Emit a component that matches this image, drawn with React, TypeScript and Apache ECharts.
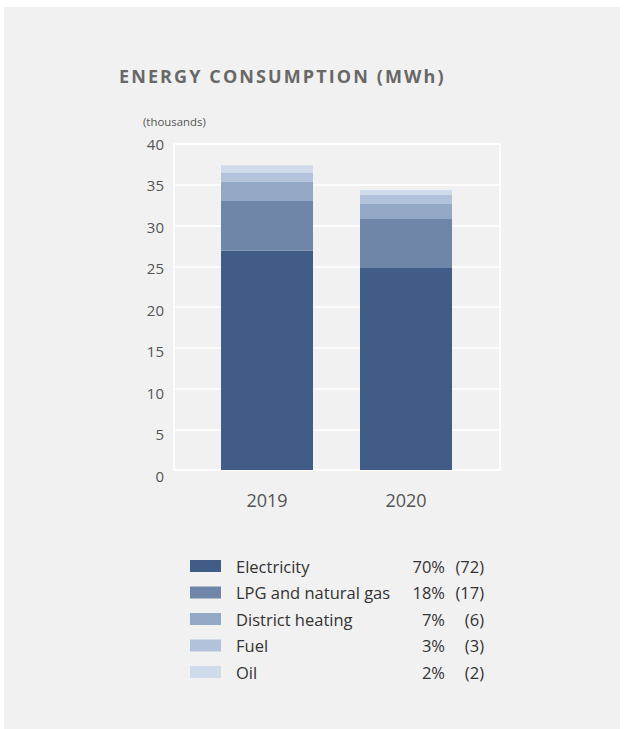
import React, { useEffect, useRef } from "react";
import * as echarts from "echarts";

const years = ["2019", "2020"];
const seriesNames = ["Electricity", "LPG and natural gas", "District heating", "Fuel", "Oil"];
const electricity = [26.9, 24.8];
const lpgGas = [6.1, 6.0];
const districtHeating = [2.4, 1.85];
const fuel = [1.1, 1.1];
const oil = [0.9, 0.6];
const sharePct = ["70%", "18%", "7%", "3%", "2%"];
const sharePrev = ["(72)", "(17)", "(6)", "(3)", "(2)"];
const yTicks = [0, 5, 10, 15, 20, 25, 30, 35, 40];

const colors = ["#405c87", "#6f86a9", "#93a8c5", "#b1c2da", "#cfdaea"];
const FONT = "'Open Sans', 'Noto Sans', sans-serif";

export default function App() {
  const ref = useRef<HTMLDivElement>(null);
  useEffect(() => {
    document.body.style.margin = "0";
    const chart = echarts.init(ref.current!, null, { renderer: "svg" });
    const values = [electricity, lpgGas, districtHeating, fuel, oil];
    const gridTop = 144;
    const gridH = 326;
    chart.setOption({
      animation: false,
      backgroundColor: "#ffffff",
      textStyle: { fontFamily: FONT },
      title: {
        text: "ENERGY CONSUMPTION (MWh)",
        left: 114,
        top: 62,
        textStyle: { fontSize: 18, fontWeight: "bold", color: "#686868", fontFamily: FONT },
      },
      graphic: [
        {
          type: "rect",
          z: -10,
          shape: { x: 4, y: 7, width: 616, height: 730 },
          style: { fill: "#f1f1f1" },
          silent: true,
        },
        {
          type: "text",
          x: 143,
          y: 121,
          style: {
            text: "(thousands)",
            fill: "#555555",
            font: `11.4px ${FONT}`,
            textVerticalAlign: "middle",
          },
        },
      ],
      grid: [
        { left: 174, top: gridTop, width: 326, height: gridH, show: true, borderColor: "#ffffff", borderWidth: 1.5, backgroundColor: "transparent" },
        { left: 197.5, top: gridTop, width: 278, height: gridH },
        { left: 174, top: 143.7, width: 326, height: 332 },
      ],
      xAxis: [
        { type: "category", gridIndex: 0, data: years, show: false },
        {
          type: "category",
          gridIndex: 1,
          data: years,
          axisLine: { show: false },
          axisTick: { show: false },
          axisLabel: { color: "#555555", fontSize: 18, margin: 21, fontFamily: FONT },
        },
        { type: "category", gridIndex: 2, data: years, show: false },
      ],
      yAxis: [
        {
          type: "value",
          gridIndex: 0,
          min: 0,
          max: 40,
          interval: 5,
          axisLine: { show: false },
          axisTick: { show: false },
          axisLabel: { show: false },
          splitLine: { lineStyle: { color: "#ffffff", width: 1.5 } },
        },
        { type: "value", gridIndex: 1, min: 0, max: 40, interval: 5, show: false },
        {
          type: "value",
          gridIndex: 2,
          min: 0,
          max: 40,
          interval: 5,
          axisLine: { show: false },
          axisTick: { show: false },
          splitLine: { show: false },
          axisLabel: {
            color: "#555555",
            fontSize: 15,
            margin: 10,
            fontFamily: FONT,
            formatter: (v: number) => (yTicks.includes(v) ? String(v) : ""),
          },
        },
      ],
      legend: {
        orient: "vertical",
        left: 185,
        top: 551,
        itemWidth: 31,
        itemHeight: 12,
        itemGap: 6.5,
        icon: "rect",
        data: seriesNames,
        selectedMode: false,
        formatter: (name: string) => {
          const i = seriesNames.indexOf(name);
          return `{n|${name}}{p|${sharePct[i]}}{q|${sharePrev[i]}}`;
        },
        textStyle: {
          color: "#333333",
          fontSize: 16.5,
          fontFamily: FONT,
          lineHeight: 20,
          rich: {
            n: { width: 169, padding: [0, 0, 0, 10], fontSize: 16.5, color: "#333333", fontFamily: FONT },
            p: { width: 40, align: "right", fontSize: 16.5, color: "#333333", fontFamily: FONT },
            q: { width: 39, align: "right", fontSize: 16.5, color: "#333333", fontFamily: FONT },
          },
        },
      },
      series: seriesNames.map((name, i) => ({
        name,
        type: "bar",
        stack: "total",
        xAxisIndex: 1,
        yAxisIndex: 1,
        barWidth: 92,
        itemStyle: { color: colors[i] },
        data: values[i],
      })),
    });
    const el = ref.current!;
    el.querySelectorAll("text").forEach((t) => {
      if ((t.textContent || "").startsWith("ENERGY")) {
        (t as SVGTextElement).style.letterSpacing = "2.1px";
      }
    });
    return () => chart.dispose();
  }, []);
  return <div ref={ref} style={{ width: 624, height: 729 }} />;
}
